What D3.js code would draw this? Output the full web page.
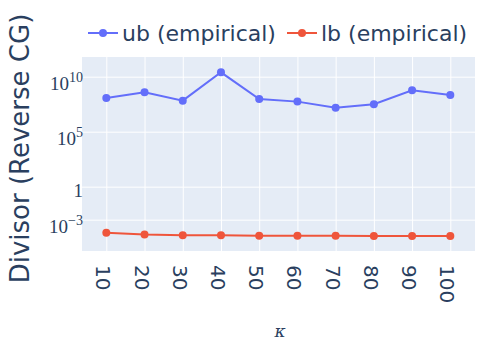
<!DOCTYPE html>
<html>
<head>
<meta charset="utf-8">
<script src="https://cdn.jsdelivr.net/npm/d3@7"></script>
<style>
  body { margin: 0; background: #fff; }
  svg { display: block; }
</style>
</head>
<body>
<div id="chart"></div>
<script>
// data
const kappa = [10, 20, 30, 40, 50, 60, 70, 80, 90, 100];
const ubEmpirical = [1.15e8, 3.8e8, 6.6e7, 2.5e10, 9.3e7, 5.4e7, 1.5e7, 3.1e7, 5.75e8, 2.2e8];
const lbEmpirical = [6.6e-5, 4.4e-5, 3.8e-5, 3.8e-5, 3.5e-5, 3.5e-5, 3.4e-5, 3.3e-5, 3.3e-5, 3.3e-5];
const yTickVals = [1e10, 1e5, 1, 1e-3];
const yTickLabels = [['10', '10'], ['10', '5'], ['1', ''], ['10', '\u22123']];
const seriesNames = ['ub (empirical)', 'lb (empirical)'];

const W = 500, H = 350;
const plot = { left: 82, right: 475, top: 57, bottom: 251 };
const textColor = '#2a3f5f';
const colors = ['#636efa', '#EF553B'];

const svg = d3.select('#chart').append('svg')
    .attr('width', W)
    .attr('height', H);

const x = d3.scaleLinear().domain([3.64, 106.46]).range([plot.left, plot.right]);
const y = d3.scaleLog().domain([Math.pow(10, -5.85), Math.pow(10, 11.79)]).range([plot.bottom, plot.top]);

// plot background
svg.append('rect')
    .attr('x', plot.left)
    .attr('y', plot.top)
    .attr('width', plot.right - plot.left)
    .attr('height', plot.bottom - plot.top)
    .attr('fill', '#E5ECF6');

// grid lines
const xGrid = svg.append('g')
    .attr('transform', `translate(0,${plot.bottom})`)
    .call(d3.axisBottom(x).tickValues(kappa).tickSize(-(plot.bottom - plot.top)).tickFormat(''));
const yGrid = svg.append('g')
    .attr('transform', `translate(${plot.left},0)`)
    .call(d3.axisLeft(y).tickValues(yTickVals).tickSize(-(plot.right - plot.left)).tickFormat(''));
[xGrid, yGrid].forEach(g => {
    g.select('.domain').remove();
    g.selectAll('line').attr('stroke', '#fff').attr('stroke-width', 1);
});

// x tick labels, rotated 90deg
svg.append('g').selectAll('text').data(kappa).join('text')
    .attr('transform', d => `translate(${x(d)},265) rotate(90)`)
    .attr('dy', '0.5em')
    .attr('text-anchor', 'start')
    .attr('fill', textColor)
    .attr('font-family', 'DejaVu Sans, sans-serif')
    .attr('font-size', 20)
    .text(d => d);

// y tick labels (math style)
const yLab = svg.append('g').selectAll('text').data(yTickVals).join('text')
    .attr('x', 83)
    .attr('y', (d, i) => y(d) + (yTickLabels[i][1] ? 13.5 : 10))
    .attr('text-anchor', 'end')
    .attr('fill', textColor)
    .attr('font-family', 'Liberation Serif, serif')
    .attr('font-size', 19);
yLab.append('tspan').text((d, i) => yTickLabels[i][0]);
yLab.append('tspan')
    .attr('dy', -8)
    .attr('font-size', 14)
    .text((d, i) => yTickLabels[i][1]);

// axis titles
svg.append('text')
    .attr('transform', 'translate(29,148.5) rotate(-90)')
    .attr('text-anchor', 'middle')
    .attr('fill', textColor)
    .attr('font-family', 'DejaVu Sans, sans-serif')
    .attr('font-size', 26)
    .text('Divisor (Reverse CG)');

svg.append('text')
    .attr('x', 280)
    .attr('y', 337)
    .attr('text-anchor', 'middle')
    .attr('fill', textColor)
    .attr('font-family', 'DejaVu Serif, serif')
    .attr('font-style', 'italic')
    .attr('font-size', 17)
    .text('\u03ba');

// series
const series = [ubEmpirical, lbEmpirical];
const line = d3.line()
    .x((d, i) => x(kappa[i]))
    .y(d => y(d));

series.forEach((vals, s) => {
    svg.append('path')
        .datum(vals)
        .attr('d', line)
        .attr('fill', 'none')
        .attr('stroke', colors[s])
        .attr('stroke-width', 2);
    svg.append('g').selectAll('circle').data(vals).join('circle')
        .attr('cx', (d, i) => x(kappa[i]))
        .attr('cy', d => y(d))
        .attr('r', 4)
        .attr('fill', colors[s]);
});

// legend
const legendX = [88, 287];
const legend = svg.append('g').selectAll('g').data(seriesNames).join('g')
    .attr('transform', (d, i) => `translate(${legendX[i]},33)`);
legend.append('line')
    .attr('x1', 0).attr('x2', 30)
    .attr('stroke', (d, i) => colors[i])
    .attr('stroke-width', 2);
legend.append('circle')
    .attr('cx', 15)
    .attr('r', 4)
    .attr('fill', (d, i) => colors[i]);
legend.append('text')
    .attr('x', 34)
    .attr('dy', '0.35em')
    .attr('fill', textColor)
    .attr('font-family', 'DejaVu Sans, sans-serif')
    .attr('font-size', 22)
    .text(d => d);
</script>
</body>
</html>
